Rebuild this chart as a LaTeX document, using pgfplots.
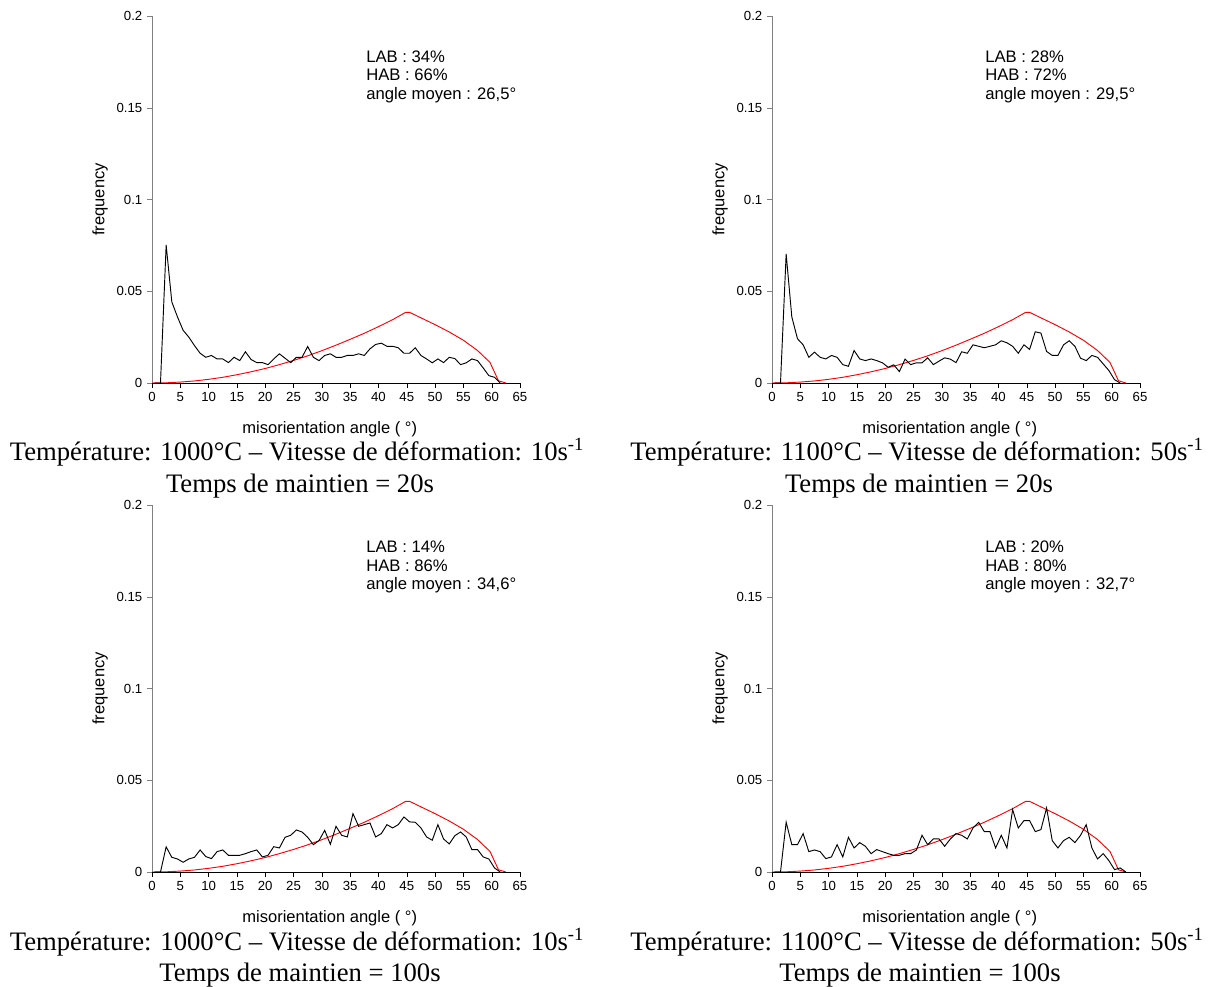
\documentclass[border=0pt]{standalone}
\usepackage{fontspec}
\setmainfont{Liberation Serif}
\newfontfamily\arial{Liberation Sans}
\usepackage{pgfplots}
\usepackage{pgfplotstable}
\pgfplotsset{compat=1.18}

\pgfplotstableread{
x y
0 0
2.5 0.0001
5 0.0005
7.5 0.0011
10 0.0020
12.5 0.0031
15 0.0045
17.5 0.0061
20 0.0079
22.5 0.0100
25 0.0123
27.5 0.0148
30 0.0176
32.5 0.0206
35 0.0238
37.5 0.0271
40 0.0307
42.5 0.0345
44.8 0.0385
45.5 0.0385
47.5 0.0355
50 0.0318
52.5 0.0278
55 0.0233
57.5 0.0177
59.7 0.0112
61.2 0.0012
62.5 0
}\redtab

\pgfplotstableread{
x y
0.5 0
1.5 0
2.5 0.0752
3.5 0.0442
4.5 0.036
5.5 0.0287
6.5 0.025
7.5 0.0204
8.5 0.0162
9.5 0.014
10.5 0.015
11.5 0.0131
12.5 0.0131
13.5 0.0111
14.5 0.014
15.5 0.0122
16.5 0.017
17.5 0.0128
18.5 0.0111
19.5 0.0111
20.5 0.010
21.5 0.0131
22.5 0.0159
23.5 0.0135
24.5 0.0111
25.5 0.014
26.5 0.014
27.5 0.0199
28.5 0.014
29.5 0.0122
30.5 0.015
31.5 0.0159
32.5 0.014
33.5 0.014
34.5 0.015
35.5 0.015
36.5 0.0159
37.5 0.015
38.5 0.0186
39.5 0.021
40.5 0.0217
41.5 0.020
42.5 0.020
43.5 0.0192
44.5 0.0162
45.5 0.0162
46.5 0.0192
47.5 0.015
48.5 0.0131
49.5 0.011
50.5 0.0131
51.5 0.0111
52.5 0.014
53.5 0.0133
54.5 0.010
55.5 0.011
56.5 0.0131
57.5 0.0122
58.5 0.0082
59.5 0.004
60.5 0.0031
61.5 0
}\tabA

\pgfplotstableread{
x y
0.5 0
1.5 0
2.5 0.0703
3.5 0.036
4.5 0.0241
5.5 0.0208
6.5 0.014
7.5 0.0168
8.5 0.014
9.5 0.0131
10.5 0.015
11.5 0.014
12.5 0.010
13.5 0.0091
14.5 0.0177
15.5 0.0131
16.5 0.0122
17.5 0.0131
18.5 0.0122
19.5 0.011
20.5 0.0086
21.5 0.0099
22.5 0.0062
23.5 0.013
24.5 0.010
25.5 0.011
26.5 0.011
27.5 0.0137
28.5 0.010
29.5 0.0119
30.5 0.0137
31.5 0.013
32.5 0.0111
33.5 0.017
34.5 0.0162
35.5 0.0208
36.5 0.020
37.5 0.0192
38.5 0.020
39.5 0.0208
40.5 0.023
41.5 0.0219
42.5 0.020
43.5 0.0162
44.5 0.0208
45.5 0.0183
46.5 0.0279
47.5 0.0272
48.5 0.0172
49.5 0.015
50.5 0.015
51.5 0.0208
52.5 0.023
53.5 0.020
54.5 0.0135
55.5 0.0122
56.5 0.015
57.5 0.014
58.5 0.0104
59.5 0.0068
60.5 0.0018
61.5 0
}\tabB

\pgfplotstableread{
x y
0.5 0
1.5 0
2.5 0.0137
3.5 0.008
4.5 0.0071
5.5 0.0053
6.5 0.0071
7.5 0.008
8.5 0.012
9.5 0.0084
10.5 0.0073
11.5 0.0111
12.5 0.012
13.5 0.0091
14.5 0.0091
15.5 0.0091
16.5 0.010
17.5 0.0111
18.5 0.012
19.5 0.0082
20.5 0.0091
21.5 0.0138
22.5 0.0131
23.5 0.0189
24.5 0.020
25.5 0.0229
26.5 0.0218
27.5 0.0189
28.5 0.0149
29.5 0.0171
30.5 0.0227
31.5 0.0151
32.5 0.0249
33.5 0.020
34.5 0.0191
35.5 0.0318
36.5 0.0249
37.5 0.0258
38.5 0.0267
39.5 0.0191
40.5 0.0209
41.5 0.0258
42.5 0.024
43.5 0.0258
44.5 0.030
45.5 0.0273
46.5 0.0271
47.5 0.024
48.5 0.0191
49.5 0.0173
50.5 0.0258
51.5 0.018
52.5 0.0153
53.5 0.0198
54.5 0.0218
55.5 0.0191
56.5 0.0122
57.5 0.0122
58.5 0.0082
59.5 0.0071
60.5 0.0022
61.5 0
}\tabC

\pgfplotstableread{
x y
0.5 0
1.5 0
2.5 0.0271
3.5 0.0149
4.5 0.0149
5.5 0.0209
6.5 0.0111
7.5 0.012
8.5 0.0111
9.5 0.0073
10.5 0.0082
11.5 0.0149
12.5 0.0082
13.5 0.0189
14.5 0.0131
15.5 0.016
16.5 0.014
17.5 0.010
18.5 0.0122
19.5 0.0111
20.5 0.010
21.5 0.0091
22.5 0.0091
23.5 0.010
24.5 0.010
25.5 0.012
26.5 0.020
27.5 0.0149
28.5 0.018
29.5 0.018
30.5 0.014
31.5 0.018
32.5 0.0209
33.5 0.020
34.5 0.018
35.5 0.024
36.5 0.0271
37.5 0.022
38.5 0.022
39.5 0.0131
40.5 0.020
41.5 0.0131
42.5 0.034
43.5 0.024
44.5 0.028
45.5 0.028
46.5 0.022
47.5 0.0231
48.5 0.0349
49.5 0.0171
50.5 0.0131
51.5 0.0171
52.5 0.0189
53.5 0.016
54.5 0.020
55.5 0.0258
56.5 0.0131
57.5 0.0071
58.5 0.010
59.5 0.0062
60.5 0.0013
61.5 0.0022
62.5 0
}\tabD

\pgfplotsset{
  panel/.style={
    scale only axis, width=276pt, height=275.25pt,
    xmin=0, xmax=65, ymin=0, ymax=0.2,
    axis lines=left, axis line style={-},
    x axis line style={black}, y axis line style={gray},
    tick align=outside, major tick length=3.75pt,
    xtick={0,5,...,65},
    xticklabels={0,5,10,15,20,25,30,35,40,45,50,55,60,65},
    ytick={0,0.05,0.1,0.15,0.2},
    yticklabels={0,0.05,0.1,0.15,0.2},
    scaled ticks=false,
    tick label style={font=\arial\fontsize{9.9}{11}\selectfont},
    x tick style={black}, y tick style={gray},
    xlabel={misorientation angle ( °)}, ylabel={frequency},
    label style={font=\arial\fontsize{12.4}{14}\selectfont},
    xlabel style={at={(axis description cs:0.483,-0.125)}, anchor=center},
    ylabel style={at={(axis description cs:-0.141,0.5)}, anchor=center},
  },
  blk/.style={black, line width=0.7pt},
  rd/.style={red, line width=0.7pt},
}

\newcommand{\annfont}{\arial\fontsize{12.5}{14}\selectfont}
\newcommand{\capfont}{\fontsize{20}{22}\selectfont}

\begin{document}
\begin{tikzpicture}[x=0.75pt,y=0.75pt]
\begin{axis}[panel, at={(114pt,453pt)}, anchor=south west]
\addplot[rd] table[x=x,y=y]{\redtab};
\addplot[blk] table[x=x,y=y]{\tabA};
\end{axis}
\begin{axis}[panel, at={(579pt,453pt)}, anchor=south west]
\addplot[rd] table[x=x,y=y]{\redtab};
\addplot[blk] table[x=x,y=y]{\tabB};
\end{axis}
\begin{axis}[panel, at={(114pt,86.25pt)}, anchor=south west]
\addplot[rd] table[x=x,y=y]{\redtab};
\addplot[blk] table[x=x,y=y]{\tabC};
\end{axis}
\begin{axis}[panel, at={(579pt,86.25pt)}, anchor=south west]
\addplot[rd] table[x=x,y=y]{\redtab};
\addplot[blk] table[x=x,y=y]{\tabD};
\end{axis}

% annotations
\node[anchor=base west, inner sep=0pt, font=\annfont] at (366,924) {LAB : 34\%};
\node[anchor=base west, inner sep=0pt, font=\annfont] at (366,906) {HAB : 66\%};
\node[anchor=base west, inner sep=0pt, font=\annfont] at (366,887) {angle moyen : 26,5°};
\node[anchor=base west, inner sep=0pt, font=\annfont] at (985,924) {LAB : 28\%};
\node[anchor=base west, inner sep=0pt, font=\annfont] at (985,906) {HAB : 72\%};
\node[anchor=base west, inner sep=0pt, font=\annfont] at (985,887) {angle moyen : 29,5°};
\node[anchor=base west, inner sep=0pt, font=\annfont] at (366,434) {LAB : 14\%};
\node[anchor=base west, inner sep=0pt, font=\annfont] at (366,415) {HAB : 86\%};
\node[anchor=base west, inner sep=0pt, font=\annfont] at (366,397) {angle moyen : 34,6°};
\node[anchor=base west, inner sep=0pt, font=\annfont] at (985,434) {LAB : 20\%};
\node[anchor=base west, inner sep=0pt, font=\annfont] at (985,415) {HAB : 80\%};
\node[anchor=base west, inner sep=0pt, font=\annfont] at (985,397) {angle moyen : 32,7°};

% captions
\node[anchor=base, inner sep=0pt, font=\capfont] at (297,526) {Température: 1000°C – Vitesse de déformation: 10s\textsuperscript{-1}};
\node[anchor=base, inner sep=0pt, font=\capfont] at (300,494) {Temps de maintien = 20s};
\node[anchor=base, inner sep=0pt, font=\capfont] at (917,526) {Température: 1100°C – Vitesse de déformation: 50s\textsuperscript{-1}};
\node[anchor=base, inner sep=0pt, font=\capfont] at (919,494) {Temps de maintien = 20s};
\node[anchor=base, inner sep=0pt, font=\capfont] at (297,36) {Température: 1000°C – Vitesse de déformation: 10s\textsuperscript{-1}};
\node[anchor=base, inner sep=0pt, font=\capfont] at (300,5) {Temps de maintien = 100s};
\node[anchor=base, inner sep=0pt, font=\capfont] at (917,36) {Température: 1100°C – Vitesse de déformation: 50s\textsuperscript{-1}};
\node[anchor=base, inner sep=0pt, font=\capfont] at (920,5) {Temps de maintien = 100s};

\pgfresetboundingbox
\path[use as bounding box] (0,0) rectangle (1210,987);
\end{tikzpicture}
\end{document}
